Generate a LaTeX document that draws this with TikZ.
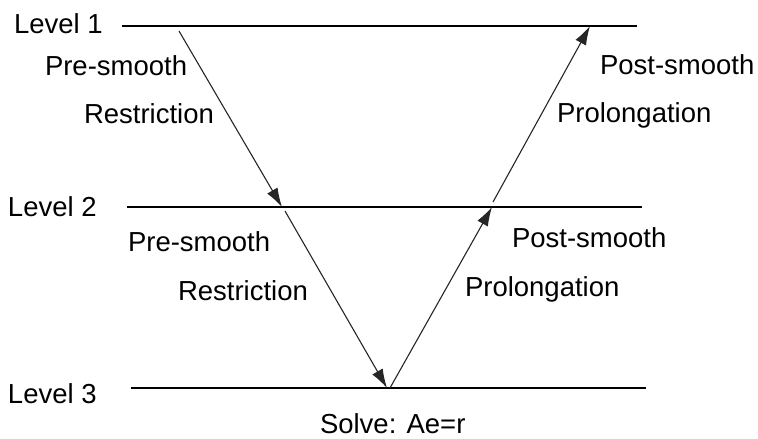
\documentclass[tikz,border=0pt]{standalone}
\usepackage{fontspec}
\setmainfont{Liberation Sans}
\usetikzlibrary{arrows.meta}

\begin{document}
\begin{tikzpicture}[x=1pt,y=-1pt]
\def\linecol{black}
\def\arrcol{black!85}

\tikzset{every node/.style={font=\fontsize{27.5}{33}\selectfont, inner sep=0pt, outer sep=0pt, anchor=base west}}
\tikzset{levelline/.style={line width=1.4pt, draw=\linecol}}
\tikzset{vleg/.style={line width=1.1pt, draw=\arrcol, -{Latex[length=19pt,width=12pt]}}}
\useasboundingbox (0,0) rectangle (758,439);

%%%%%% levels
\node(lvlone)at(14,34){Level 1};
\coordinate(lonea)at(122,26); \coordinate(loneb)at(637,26);
\node(lvltwo)at(8,216){Level 2};
\coordinate(ltwoa)at(127,207); \coordinate(ltwob)at(642,207);
\node(lvlthree)at(8,403){Level 3};
\coordinate(lthreea)at(131,388); \coordinate(lthreeb)at(646,388);
\draw[levelline] (lonea) -- (loneb);
\draw[levelline] (ltwoa) -- (ltwob);
\draw[levelline] (lthreea) -- (lthreeb);

%%%%%% down legs
\node(preone)at(45,75){Pre-smooth};
\node(resone)at(84,123){Restriction};
\node(pretwo)at(128,251){Pre-smooth};
\node(restwo)at(178,300){Restriction};
\coordinate(dones)at(179,31); \coordinate(donee)at(282,207);
\coordinate(dtwos)at(285,211); \coordinate(dtwoe)at(387,388);
\draw[vleg] (dones) -- (donee);
\draw[vleg] (dtwos) -- (dtwoe);

%%%%%% bottom
\node(solve)at(320,433){Solve: Ae=r};

%%%%%% up legs
\node(postone)at(600,74){Post-smooth};
\node(proone)at(557,122){Prolongation};
\node(posttwo)at(512,247){Post-smooth};
\node(protwo)at(465,296){Prolongation};
\coordinate(uones)at(390,388); \coordinate(uonee)at(492,207);
\coordinate(utwos)at(493,202); \coordinate(utwoe)at(590,26);
\draw[vleg] (uones) -- (uonee);
\draw[vleg] (utwos) -- (utwoe);
\end{tikzpicture}
\end{document}
